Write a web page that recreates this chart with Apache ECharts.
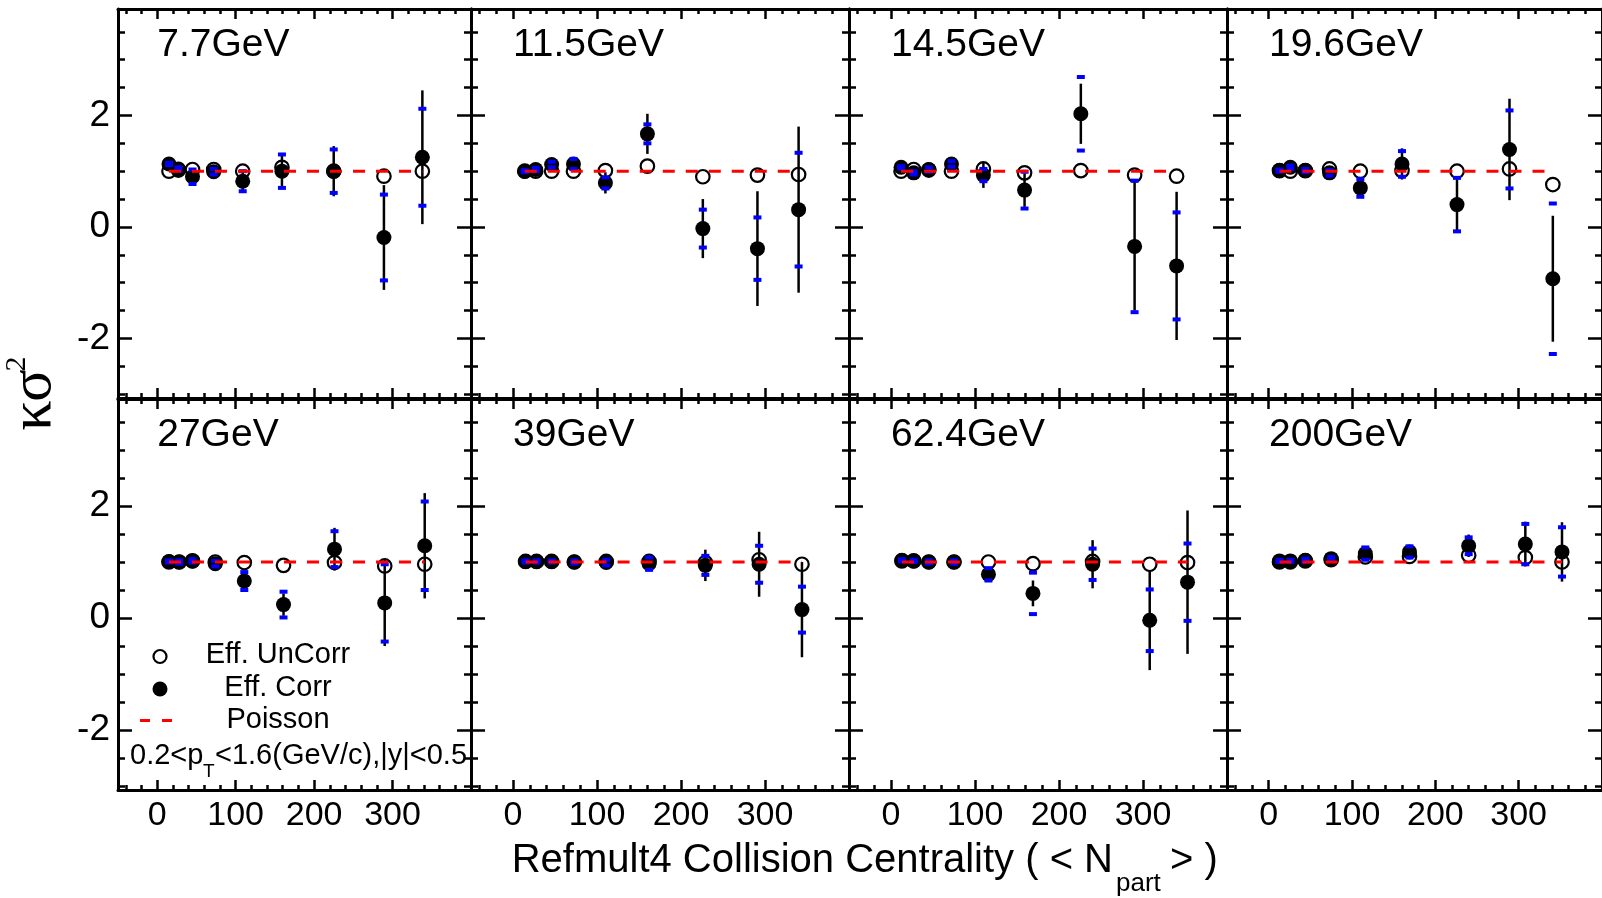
<!DOCTYPE html>
<html><head><meta charset="utf-8">
<script src="https://cdn.jsdelivr.net/npm/echarts@6/dist/echarts.min.js"></script>
<style>html,body{margin:0;padding:0;background:#fff}#c{width:1602px;height:898px}</style>
</head><body><div id="c"></div><script>
// ---- data ----
const energies = ['7.7GeV','11.5GeV','14.5GeV','19.6GeV','27GeV','39GeV','62.4GeV','200GeV'];
const npart = [
  [15, 27, 45, 72, 109, 159, 225, 289, 338],
  [14, 27, 46, 72, 110, 160, 226, 291, 340],
  [12, 27, 45, 72, 110, 159, 226, 290, 340],
  [13, 26, 44, 73, 110, 160, 226, 289, 341],
  [15, 28, 45, 74, 111, 161, 226, 290, 341],
  [15, 28, 46, 73, 111, 162, 229, 293, 344],
  [13, 27, 45, 75, 116, 169, 240, 308, 353],
  [13, 26, 44, 75, 116, 169, 240, 308, 352]
];
const effUnCorr = [
  [1.00, 1.02, 1.03, 1.03, 1.00, 1.07, 1.00, 0.91, 1.00],
  [1.00, 1.00, 1.00, 1.00, 1.01, 1.09, 0.90, 0.93, 0.94],
  [1.00, 1.03, 1.02, 1.00, 1.04, 0.97, 1.01, 0.93, 0.91],
  [1.01, 1.00, 1.01, 1.04, 1.00, 1.01, 1.00, 1.04, 0.76],
  [1.00, 1.00, 1.02, 1.00, 0.99, 0.94, 0.99, 0.93, 0.96],
  [1.01, 1.01, 1.01, 1.00, 1.01, 1.01, 0.99, 1.04, 0.96],
  [1.02, 1.02, 1.00, 1.00, 1.00, 0.97, 1.01, 0.96, 0.99],
  [1.00, 1.00, 1.02, 1.04, 1.09, 1.10, 1.12, 1.08, 1.00]
];
const effCorr = [
  [1.13, 1.04, 0.90, 0.99, 0.82, 1.00, 1.00, -0.19, 1.25],
  [1.00, 1.03, 1.12, 1.13, 0.79, 1.67, -0.03, -0.39, 0.31],
  [1.07, 0.97, 1.03, 1.13, 0.93, 0.66, 2.03, -0.35, -0.70],
  [1.01, 1.07, 1.01, 0.97, 0.70, 1.13, 0.40, 1.39, -0.93],
  [1.01, 1.00, 1.02, 0.97, 0.66, 0.24, 1.23, 0.27, 1.29],
  [1.01, 1.01, 1.01, 1.00, 0.99, 0.97, 0.94, 0.96, 0.15],
  [1.03, 1.02, 1.00, 1.00, 0.78, 0.44, 0.96, -0.04, 0.64],
  [1.02, 1.02, 1.03, 1.06, 1.15, 1.18, 1.29, 1.32, 1.18]
];
const statErr = [
  [0.03, 0.04, 0.12, 0.08, 0.18, 0.30, 0.45, 0.94, 1.20],
  [0.03, 0.04, 0.06, 0.10, 0.19, 0.36, 0.53, 1.03, 1.49],
  [0.03, 0.04, 0.05, 0.10, 0.23, 0.30, 0.54, 1.15, 1.33],
  [0.03, 0.04, 0.04, 0.06, 0.10, 0.28, 0.50, 0.91, 1.13],
  [0.03, 0.03, 0.04, 0.06, 0.10, 0.20, 0.38, 0.77, 0.94],
  [0.02, 0.02, 0.03, 0.04, 0.07, 0.13, 0.28, 0.58, 0.85],
  [0.02, 0.03, 0.03, 0.04, 0.10, 0.23, 0.43, 0.89, 1.28],
  [0.02, 0.02, 0.03, 0.04, 0.08, 0.10, 0.20, 0.40, 0.53]
];
const sysErr = [
  [0.02, 0.03, 0.13, 0.05, 0.18, 0.30, 0.39, 0.77, 0.87],
  [0.02, 0.03, 0.05, 0.09, 0.10, 0.17, 0.34, 0.56, 1.02],
  [0.02, 0.03, 0.04, 0.05, 0.11, 0.33, 0.66, 1.18, 0.96],
  [0.02, 0.03, 0.03, 0.05, 0.16, 0.23, 0.48, 0.70, 1.35],
  [0.02, 0.03, 0.03, 0.05, 0.16, 0.23, 0.32, 0.69, 0.79],
  [0.02, 0.02, 0.02, 0.03, 0.05, 0.11, 0.17, 0.33, 0.41],
  [0.02, 0.02, 0.03, 0.03, 0.11, 0.37, 0.28, 0.55, 0.69],
  [0.02, 0.02, 0.03, 0.03, 0.11, 0.10, 0.15, 0.36, 0.44]
];
const poissonLevel = [1, 1, 1, 1, 1, 1, 1, 1];
const legendNames = ['Eff. UnCorr', 'Eff. Corr', 'Poisson'];
const xTickLabels = [0, 100, 200, 300];
const xMinorTicks = [-40, -20, 20, 40, 60, 80, 120, 140, 160, 180, 220, 240, 260, 280, 320, 340, 360, 380];
const yTickLabels = [-2, 0, 2];
const yMinorTicks = [-3, -2.5, -1.5, -1, -0.5, 0.5, 1, 1.5, 2.5, 3, 3.5];

// ---- layout ----
const FONT = "'Liberation Sans', Helvetica, Arial, sans-serif";
const SERIF = "'Liberation Serif', 'DejaVu Serif', serif";
const X_MIN = -50, X_MAX = 400, Y_MIN = -3.07, Y_MAX = 3.91;
const cols = [{left:118, width:353}, {left:471, width:378}, {left:849, width:378}, {left:1227, width:378}];
const rows = [{top:9, height:389}, {top:399, height:391}];

const grids = [], xAxes = [], yAxes = [], series = [], titles = [];

function xAxisDef(gi, pos, ticks, len, showLabel, showLine) {
  return {
    type:'value', gridIndex:gi, position:pos, min:X_MIN, max:X_MAX,
    axisLine:{show:showLine, onZero:false, lineStyle:{color:'#000', width:3}},
    axisTick:{show:true, inside:true, length:len, customValues:ticks, lineStyle:{color:'#000', width:2.5}},
    axisLabel:{show:showLabel, customValues:xTickLabels, color:'#000', fontSize:34, fontFamily:FONT,
               margin:26, verticalAlign:'middle'},
    splitLine:{show:false}
  };
}
function yAxisDef(gi, pos, ticks, len, showLabel, showLine) {
  return {
    type:'value', gridIndex:gi, position:pos, min:Y_MIN, max:Y_MAX,
    axisLine:{show:showLine, onZero:false, lineStyle:{color:'#000', width:3}},
    axisTick:{show:true, inside:true, length:len, customValues:ticks, lineStyle:{color:'#000', width:2.5}},
    axisLabel:{show:showLabel, customValues:yTickLabels, color:'#000', fontSize:37, fontFamily:FONT, margin:8},
    splitLine:{show:false}
  };
}

for (let p = 0; p < 8; p++) {
  const r = p < 4 ? 0 : 1, c = p % 4;
  grids.push({left:cols[c].left, top:rows[r].top, width:cols[c].width, height:rows[r].height});
  xAxes.push(xAxisDef(p, 'bottom', xTickLabels, 10, r === 1, true));
  xAxes.push(xAxisDef(p, 'bottom', xMinorTicks, 5, false, false));
  xAxes.push(xAxisDef(p, 'top', xTickLabels, 10, false, true));
  xAxes.push(xAxisDef(p, 'top', xMinorTicks, 5, false, false));
  yAxes.push(yAxisDef(p, 'left', yTickLabels, 14, c === 0, true));
  yAxes.push(yAxisDef(p, 'left', yMinorTicks, 7, false, false));
  yAxes.push(yAxisDef(p, 'right', yTickLabels, 14, false, true));
  yAxes.push(yAxisDef(p, 'right', yMinorTicks, 7, false, false));

  const xi = 4 * p, yi = 4 * p;
  const xs = npart[p];
  series.push({
    name:legendNames[0], type:'scatter', xAxisIndex:xi, yAxisIndex:yi, z:2,
    symbol:'circle', symbolSize:13.5,
    itemStyle:{color:'#fff', borderColor:'#000', borderWidth:2.2, opacity:1},
    emphasis:{disabled:true},
    data: xs.map((x, i) => [x, effUnCorr[p][i]])
  });
  series.push({
    name:'stat', type:'custom', xAxisIndex:xi, yAxisIndex:yi, z:3,
    data: xs.map((x, i) => [x, effCorr[p][i], statErr[p][i]]),
    renderItem: (params, api) => {
      const x = api.value(0), y = api.value(1), e = api.value(2);
      const a = api.coord([x, y + e]), b = api.coord([x, y - e]);
      return {type:'line', shape:{x1:a[0], y1:a[1], x2:b[0], y2:b[1]}, style:{stroke:'#000', lineWidth:2.5}};
    }
  });
  series.push({
    name:legendNames[1], type:'scatter', xAxisIndex:xi, yAxisIndex:yi, z:4,
    symbol:'circle', symbolSize:15, itemStyle:{color:'#000', opacity:1},
    emphasis:{disabled:true},
    data: xs.map((x, i) => [x, effCorr[p][i]])
  });
  series.push({
    name:'sys', type:'custom', xAxisIndex:xi, yAxisIndex:yi, z:5,
    data: xs.map((x, i) => [x, effCorr[p][i], sysErr[p][i]]),
    renderItem: (params, api) => {
      const x = api.value(0), y = api.value(1), e = api.value(2);
      const a = api.coord([x, y + e]), b = api.coord([x, y - e]);
      return {type:'group', children:[
        {type:'rect', shape:{x:a[0]-4, y:a[1]-2, width:8, height:4}, style:{fill:'#0000ff'}},
        {type:'rect', shape:{x:b[0]-4, y:b[1]-2, width:8, height:4}, style:{fill:'#0000ff'}}
      ]};
    }
  });
  series.push({
    name:legendNames[2], type:'line', xAxisIndex:xi, yAxisIndex:yi, z:6, symbol:'none',
    lineStyle:{color:'#ff0000', width:3, type:[12, 11]}, itemStyle:{color:'#ff0000'},
    emphasis:{disabled:true},
    data: [[xs[0], poissonLevel[p]], [xs[xs.length - 1], poissonLevel[p]]]
  });

  const x0 = cols[c].left + (0 - X_MIN) / (X_MAX - X_MIN) * cols[c].width;
  titles.push({text:energies[p], left:x0, top: r === 0 ? 26 : 416, padding:0,
    textStyle:{fontSize:39, fontWeight:'normal', fontFamily:FONT, color:'#000'}});
}

const txt = (x, y, text, size, align, family, extra) =>
  Object.assign({type:'text', x:x, y:y, silent:true,
    style:{text:text, font:size + 'px ' + (family || FONT), fill:'#000', align:align, verticalAlign:'middle'}}, extra || {});

const option = {
  backgroundColor:'#fff',
  animation:false,
  title: titles,
  grid: grids, xAxis: xAxes, yAxis: yAxes, series: series,
  graphic: [
    // legend (inside the 27GeV panel)
    {type:'circle', shape:{cx:160, cy:656.5, r:6.5}, style:{fill:'#fff', stroke:'#000', lineWidth:2.2}},
    txt(278, 655, legendNames[0], 29, 'center'),
    {type:'circle', shape:{cx:160, cy:689, r:7.5}, style:{fill:'#000'}},
    txt(278, 688, legendNames[1], 29, 'center'),
    {type:'line', shape:{x1:140, y1:720.5, x2:172, y2:720.5}, style:{stroke:'#ff0000', lineWidth:3, lineDash:[10, 12]}},
    txt(278, 720, legendNames[2], 29, 'center'),
    // kinematic cuts
    txt(130, 756, '0.2<p', 29, 'left'),
    txt(203, 772, 'T', 19, 'left'),
    txt(215, 756, '<1.6(GeV/c),|y|<0.5', 29, 'left'),
    // x-axis title
    txt(1113, 861, 'Refmult4 Collision Centrality ( < N', 40, 'right'),
    txt(1116, 884, 'part', 26, 'left'),
    txt(1170, 861, '> )', 40, 'left'),
    // y-axis title
    txt(34, 400, 'κσ', 60, 'center', SERIF, {rotation:Math.PI/2}),
    txt(17, 364, '2', 30, 'center', SERIF, {rotation:Math.PI/2})
  ]
};
const chart = echarts.init(document.getElementById('c'), null, {renderer:'canvas'});
chart.setOption(option);
</script></body></html>
